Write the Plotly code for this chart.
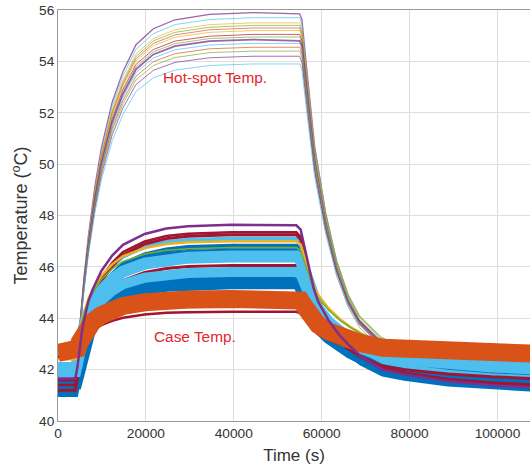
import plotly.graph_objects as go

# ---------------- data ----------------
# time axis for hot-spot curves (s)
hot_time = [0, 3950, 4550, 5130, 5920, 6900, 8380, 9860, 12330, 14790, 17750, 21690, 26620,
            34510, 44370, 55000, 55500, 56600, 58400, 60900, 63400, 66000, 68600, 73500,
            78500, 88000, 108000]

hot_1 = [42, 42, 42.90, 44.14, 45.60, 47.18, 49.12, 50.62, 52.41, 53.61, 54.65, 55.27, 55.62, 55.83, 55.9, 55.85,
         55.63, 53.71, 50.69, 48.09, 46.17, 44.80, 43.91, 43.02, 42.61, 42.34, 42.2]
hot_2 = [42, 42, 42.89, 44.11, 45.55, 47.11, 49.01, 50.49, 52.26, 53.44, 54.47, 55.08, 55.43, 55.63, 55.7, 55.7,
         55.43, 53.57, 50.65, 48.12, 46.26, 44.93, 44.06, 43.20, 42.80, 42.53, 42.4]
hot_3 = [42, 42, 42.88, 44.08, 45.50, 47.04, 48.91, 50.37, 52.11, 53.27, 54.29, 54.89, 55.23, 55.43, 55.5, 55.5,
         55.24, 53.39, 50.48, 47.98, 46.13, 44.81, 43.95, 43.09, 42.70, 42.43, 42.3]
hot_4 = [42, 42, 42.87, 44.06, 45.47, 47.00, 48.86, 50.31, 52.04, 53.19, 54.19, 54.80, 55.13, 55.33, 55.4, 55.4,
         55.14, 53.34, 50.50, 48.05, 46.24, 44.95, 44.11, 43.27, 42.89, 42.63, 42.5]
hot_5 = [42, 42, 42.86, 44.05, 45.44, 46.96, 48.81, 50.25, 51.96, 53.11, 54.10, 54.70, 55.03, 55.23, 55.3, 55.3,
         55.04, 53.20, 50.32, 47.83, 46.00, 44.69, 43.84, 42.99, 42.59, 42.33, 42.2]
hot_6 = [42, 42, 42.86, 44.03, 45.42, 46.92, 48.76, 50.18, 51.89, 53.02, 54.01, 54.61, 54.94, 55.13, 55.2, 55.2,
         54.94, 53.15, 50.34, 47.90, 46.11, 44.83, 44.00, 43.17, 42.78, 42.53, 42.4]
hot_7 = [42, 42, 42.85, 44.01, 45.38, 46.87, 48.68, 50.09, 51.77, 52.90, 53.88, 54.46, 54.79, 54.98, 55.05, 55.05,
         54.80, 53.01, 50.21, 47.78, 46.00, 44.72, 43.89, 43.07, 42.68, 42.43, 42.3]
hot_8 = [42, 42, 42.84, 43.99, 45.35, 46.83, 48.63, 50.03, 51.70, 52.81, 53.78, 54.37, 54.69, 54.89, 54.95, 54.95,
         54.70, 52.96, 50.22, 47.85, 46.11, 44.87, 44.06, 43.25, 42.87, 42.62, 42.5]
hot_9 = [42, 42, 42.84, 43.98, 45.33, 46.79, 48.58, 49.97, 51.62, 52.73, 53.69, 54.27, 54.59, 54.79, 54.85, 54.8,
         54.60, 52.83, 50.04, 47.64, 45.87, 44.60, 43.78, 42.96, 42.58, 42.33, 42.2]
hot_10 = [42, 42, 42.83, 43.96, 45.29, 46.74, 48.50, 49.87, 51.51, 52.60, 53.56, 54.13, 54.45, 54.64, 54.7, 54.7,
          54.45, 52.73, 50.03, 47.69, 45.97, 44.74, 43.94, 43.14, 42.77, 42.52, 42.4]
hot_11 = [42, 42, 42.82, 43.93, 45.25, 46.68, 48.43, 49.78, 51.40, 52.48, 53.42, 53.99, 54.30, 54.49, 54.55, 54.55,
          54.31, 52.59, 49.90, 47.57, 45.85, 44.63, 43.83, 43.04, 42.67, 42.42, 42.3]
hot_12 = [42, 42, 42.81, 43.91, 45.21, 46.63, 48.35, 49.69, 51.29, 52.35, 53.28, 53.84, 54.15, 54.34, 54.4, 54.4,
          54.15, 52.43, 49.73, 47.39, 45.67, 44.44, 43.64, 42.84, 42.47, 42.22, 42.1]
hot_13 = [42, 42, 42.79, 43.88, 45.16, 46.55, 48.25, 49.56, 51.14, 52.19, 53.10, 53.65, 53.96, 54.14, 54.2, 54.2,
          53.96, 52.31, 49.72, 47.47, 45.82, 44.64, 43.88, 43.11, 42.75, 42.52, 42.4]
hot_14 = [42, 42, 42.77, 43.83, 45.08, 46.44, 48.09, 49.38, 50.91, 51.94, 52.83, 53.36, 53.66, 53.84, 53.9, 53.9,
          53.67, 52.04, 49.49, 47.29, 45.66, 44.50, 43.75, 43.00, 42.65, 42.42, 42.3]

# time axis for case curves (s)
case_time = [0, 3950, 4440, 4930, 5420, 5920, 6900, 7890, 9860, 12330, 14790, 19720, 24650, 29580,
             39440, 54230, 55220, 56200, 57190, 58170, 59160, 61630, 64090, 66560, 69020, 73950,
             78880, 88740, 98600, 108460]

case_1 = [42.65, 42.65, 42.82, 43.07, 43.28, 43.45, 43.70, 43.87, 44.12, 44.33, 44.48, 44.62, 44.70, 44.73, 44.75, 44.75,
          44.69, 44.43, 44.15, 43.92, 43.75, 43.49, 43.30, 43.15, 43.02, 42.85, 42.79, 42.71, 42.65, 42.62]
case_2 = [42.4, 42.4, 42.56, 42.81, 43.02, 43.18, 43.43, 43.59, 43.84, 44.04, 44.18, 44.33, 44.40, 44.43, 44.45, 44.45,
          44.39, 44.13, 43.85, 43.61, 43.44, 43.18, 42.99, 42.84, 42.71, 42.60, 42.55, 42.50, 42.48, 42.45]
case_3 = [42.5, 42.5, 42.64, 42.85, 43.03, 43.17, 43.38, 43.52, 43.73, 43.90, 44.02, 44.15, 44.21, 44.23, 44.25, 44.25,
          44.19, 43.97, 43.73, 43.53, 43.38, 43.16, 42.99, 42.86, 42.75, 42.65, 42.60, 42.55, 42.52, 42.5]
case_4 = [41.5, 41.5, 41.81, 42.28, 42.67, 42.98, 43.45, 43.76, 44.23, 44.62, 44.89, 45.17, 45.30, 45.36, 45.4, 45.4,
          45.29, 44.86, 44.39, 44.00, 43.71, 43.28, 42.95, 42.70, 42.48, 42.20, 42.09, 41.94, 41.85, 41.8]
case_5 = [42.1, 42.1, 42.40, 42.84, 43.21, 43.51, 43.95, 44.25, 44.69, 45.06, 45.32, 45.58, 45.71, 45.76, 45.8, 45.8,
          45.69, 45.25, 44.76, 44.36, 44.06, 43.62, 43.28, 43.03, 42.80, 42.51, 42.40, 42.25, 42.16, 42.1]
case_6 = [41.6, 41.6, 41.96, 42.49, 42.94, 43.29, 43.83, 44.18, 44.72, 45.16, 45.47, 45.78, 45.94, 46.01, 46.05, 46.05,
          45.92, 45.39, 44.82, 44.33, 43.98, 43.45, 43.06, 42.75, 42.49, 42.13, 42.00, 41.83, 41.72, 41.65]
case_7 = [41.95, 41.95, 42.31, 42.84, 43.29, 43.64, 44.18, 44.53, 45.07, 45.51, 45.82, 46.13, 46.29, 46.36, 46.4, 46.4,
          46.27, 45.75, 45.18, 44.70, 44.36, 43.83, 43.44, 43.14, 42.88, 42.53, 42.40, 42.22, 42.12, 42.05]
case_8 = [42.6, 42.6, 42.93, 43.43, 43.85, 44.18, 44.68, 45.01, 45.51, 45.92, 46.21, 46.50, 46.65, 46.71, 46.75, 46.75,
          46.63, 46.13, 45.59, 45.13, 44.80, 44.30, 43.93, 43.64, 43.39, 43.06, 42.93, 42.77, 42.66, 42.6]
case_9 = [41.3, 41.3, 41.74, 42.40, 42.95, 43.39, 44.05, 44.49, 45.15, 45.70, 46.09, 46.47, 46.66, 46.75, 46.8, 46.8,
          46.64, 46.01, 45.32, 44.73, 44.31, 43.67, 43.20, 42.83, 42.51, 42.08, 41.92, 41.71, 41.58, 41.5]
case_10 = [42.5, 42.5, 42.86, 43.40, 43.85, 44.21, 44.75, 45.11, 45.65, 46.10, 46.42, 46.73, 46.89, 46.96, 47.0, 47.0,
           46.87, 46.33, 45.75, 45.26, 44.91, 44.37, 43.97, 43.66, 43.40, 43.04, 42.91, 42.73, 42.62, 42.55]
case_11 = [41.7, 41.7, 42.13, 42.78, 43.32, 43.75, 44.40, 44.83, 45.48, 46.02, 46.40, 46.78, 46.97, 47.05, 47.1, 47.1,
           46.94, 46.29, 45.59, 44.99, 44.56, 43.91, 43.43, 43.05, 42.73, 42.29, 42.13, 41.92, 41.78, 41.7]
case_12 = [41.2, 41.2, 41.68, 42.41, 43.02, 43.50, 44.23, 44.71, 45.44, 46.04, 46.46, 46.89, 47.10, 47.19, 47.25, 47.25,
           47.07, 46.37, 45.61, 44.97, 44.50, 43.80, 43.27, 42.86, 42.51, 42.04, 41.87, 41.63, 41.49, 41.4]
case_13 = [41.4, 41.4, 41.88, 42.59, 43.19, 43.66, 44.38, 44.85, 45.57, 46.16, 46.58, 46.99, 47.20, 47.29, 47.35, 47.35,
           47.17, 46.45, 45.67, 45.01, 44.53, 43.81, 43.27, 42.85, 42.49, 42.01, 41.83, 41.59, 41.44, 41.35]
case_14 = [41.65, 41.65, 42.13, 42.85, 43.45, 43.93, 44.65, 45.12, 45.84, 46.44, 46.86, 47.28, 47.49, 47.58, 47.64, 47.62,
           47.45, 46.69, 45.86, 45.17, 44.66, 43.90, 43.33, 42.89, 42.50, 42.00, 41.81, 41.55, 41.40, 41.3]
case_15 = [41.05, 41.05, 41.49, 42.16, 42.72, 43.16, 43.83, 44.27, 44.94, 45.49, 45.88, 46.27, 46.46, 46.54, 46.6, 46.6,
           46.44, 45.80, 45.10, 44.51, 44.09, 43.44, 42.96, 42.59, 42.27, 41.84, 41.68, 41.46, 41.33, 41.25]

x_ticks = [0, 20000, 40000, 60000, 80000, 100000]
x_tick_labels = ["0", "20000", "40000", "60000", "80000", "100000"]
y_ticks = [40, 42, 44, 46, 48, 50, 52, 54, 56]
y_tick_labels = ["40", "42", "44", "46", "48", "50", "52", "54", "56"]

# ---------------- styling ----------------
BLUE = "#0072BD"
ORANGE = "#D95319"
YELLOW = "#EDB120"
PURPLE = "#7E2F8E"
GREEN = "#77AC30"
LBLUE = "#4DBEEE"
DRED = "#A2142F"

hot_series = [
    (hot_1, PURPLE, 1.3), (hot_2, LBLUE, 0.9), (hot_3, YELLOW, 0.9), (hot_4, GREEN, 0.9),
    (hot_5, ORANGE, 0.9), (hot_6, YELLOW, 0.9), (hot_7, DRED, 0.9), (hot_8, GREEN, 0.9),
    (hot_9, PURPLE, 1.8), (hot_10, LBLUE, 0.9), (hot_11, ORANGE, 0.9), (hot_12, GREEN, 0.9),
    (hot_13, PURPLE, 0.9), (hot_14, LBLUE, 0.9),
]

case_series = [
    (case_15, BLUE, 6), (case_4, BLUE, 14), (case_9, BLUE, 5), (case_11, LBLUE, 4),
    (case_12, DRED, 3), (case_13, DRED, 2.5), (case_6, DRED, 3), (case_5, LBLUE, 10),
    (case_7, LBLUE, 12), (case_10, YELLOW, 2.5), (case_8, GREEN, 1.5), (case_2, YELLOW, 2.5),
    (case_3, DRED, 2.5), (case_1, ORANGE, 18), (case_14, PURPLE, 2.5),
]

fig = go.Figure()
for ys, col, w in hot_series:
    fig.add_trace(go.Scatter(x=hot_time, y=ys, mode="lines",
                             line=dict(color=col, width=w), opacity=0.75,
                             hoverinfo="skip", showlegend=False))
for ys, col, w in case_series:
    fig.add_trace(go.Scatter(x=case_time, y=ys, mode="lines",
                             line=dict(color=col, width=w),
                             hoverinfo="skip", showlegend=False))

FONT = "Liberation Sans, Arial, Helvetica, sans-serif"
fig.add_annotation(x=35700, y=53.36, text="Hot-spot Temp.", showarrow=False,
                   font=dict(family=FONT, size=15.4, color="#E3262B"))
fig.add_annotation(x=31200, y=43.3, text="Case Temp.", showarrow=False,
                   font=dict(family=FONT, size=15.4, color="#E3262B"))

fig.update_layout(
    width=530, height=469,
    margin=dict(l=58, r=0, t=10, b=48),
    paper_bgcolor="white", plot_bgcolor="white",
    font=dict(family=FONT, size=13.7, color="#333333"),
    showlegend=False,
)
fig.update_xaxes(range=[0, 107400], tickvals=x_ticks, ticktext=x_tick_labels,
                 showgrid=True, gridcolor="#dedede", gridwidth=1,
                 showline=True, linecolor="#9a9a9a", linewidth=1, mirror=True,
                 ticks="", zeroline=False, automargin=False,
                 title=dict(text="Time (s)", font=dict(size=17, color="#333333"), standoff=8))
fig.update_yaxes(range=[40, 56], tickvals=y_ticks, ticktext=y_tick_labels,
                 showgrid=True, gridcolor="#dedede", gridwidth=1,
                 showline=True, linecolor="#9a9a9a", linewidth=1,
                 ticks="", zeroline=False, automargin=False,
                 title=dict(text="Temperature (<sup>o</sup>C)", font=dict(size=18, color="#333333"), standoff=6))

fig.write_html("out.html", config={"displayModeBar": False},
               post_script="document.body.style.margin='0px';")
